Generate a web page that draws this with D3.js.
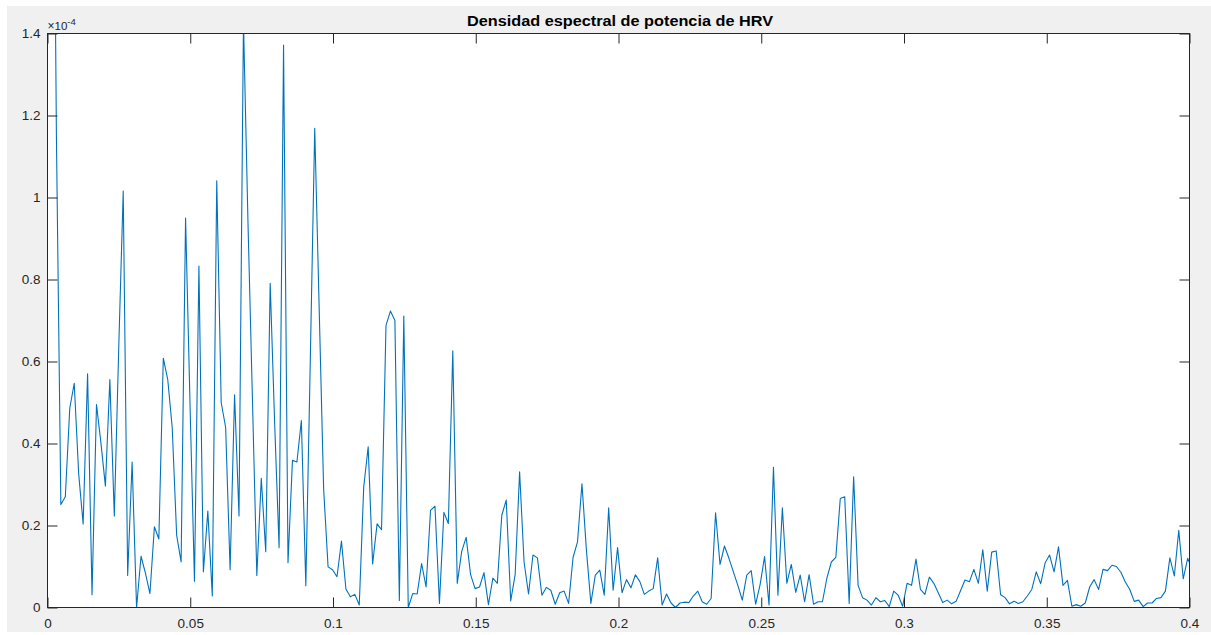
<!DOCTYPE html>
<html><head><meta charset="utf-8">
<script src="https://cdn.jsdelivr.net/npm/d3@7"></script>
<style>
body{margin:0;background:#fff}
svg{display:block}
text{font-family:"Liberation Sans",Arial,Helvetica,sans-serif}
</style>
</head><body><svg id="c" width="1211" height="635"></svg>
<script>
const chartTitle = "Densidad espectral de potencia de HRV";
const exponentBase = "10";
const exponentPower = "-4";
const freqStep = 0.00156; // Hz between PSD bins
// PSD values, in units of 1e-4
const psd = [
 4.0, 2.5, 1.15, 0.251, 0.270, 0.486, 0.547, 0.326, 0.204, 0.570,
 0.031, 0.495, 0.401, 0.296, 0.556, 0.223, 0.636, 1.016, 0.078, 0.355,
 0.0, 0.125, 0.083, 0.034, 0.197, 0.167, 0.608, 0.556, 0.439, 0.176,
 0.111, 0.950, 0.495, 0.064, 0.833, 0.087, 0.235, 0.028, 1.041, 0.500,
 0.439, 0.092, 0.519, 0.223, 1.43, 0.945, 0.514, 0.078, 0.315, 0.136,
 0.791, 0.45, 0.146, 1.372, 0.109, 0.359, 0.355, 0.456, 0.053, 0.60,
 1.169, 0.729, 0.289, 0.099, 0.092, 0.075, 0.162, 0.045, 0.026, 0.032,
 0.006, 0.294, 0.392, 0.106, 0.204, 0.190, 0.688, 0.723, 0.700, 0.017,
 0.711, 0.0, 0.034, 0.033, 0.107, 0.05, 0.237, 0.247, 0.010, 0.232,
 0.205, 0.626, 0.059, 0.137, 0.171, 0.080, 0.046, 0.050, 0.085, 0.007,
 0.072, 0.059, 0.225, 0.262, 0.016, 0.080, 0.331, 0.111, 0.033, 0.128,
 0.121, 0.030, 0.049, 0.042, 0.008, 0.036, 0.040, 0.010, 0.122, 0.160,
 0.302, 0.14, 0.010, 0.079, 0.091, 0.030, 0.243, 0.042, 0.146, 0.036,
 0.068, 0.048, 0.080, 0.063, 0.032, 0.040, 0.046, 0.121, 0.006, 0.033,
 0.011, 0.0, 0.011, 0.013, 0.012, 0.028, 0.040, 0.014, 0.008, 0.022,
 0.231, 0.105, 0.150, 0.120, 0.087, 0.054, 0.018, 0.079, 0.090, 0.008,
 0.056, 0.124, 0.006, 0.342, 0.030, 0.243, 0.059, 0.105, 0.037, 0.079,
 0.014, 0.080, 0.008, 0.014, 0.014, 0.072, 0.111, 0.122, 0.266, 0.270,
 0.010, 0.319, 0.054, 0.024, 0.018, 0.006, 0.024, 0.014, 0.017, 0.002,
 0.040, 0.030, 0.003, 0.059, 0.054, 0.118, 0.044, 0.032, 0.074, 0.059,
 0.036, 0.012, 0.018, 0.009, 0.015, 0.041, 0.067, 0.063, 0.093, 0.059,
 0.141, 0.040, 0.135, 0.138, 0.031, 0.024, 0.009, 0.015, 0.010, 0.014,
 0.028, 0.044, 0.087, 0.058, 0.109, 0.128, 0.087, 0.148, 0.054, 0.066,
 0.003, 0.007, 0.003, 0.011, 0.050, 0.068, 0.044, 0.093, 0.090, 0.103,
 0.100, 0.086, 0.062, 0.044, 0.015, 0.018, 0.002, 0.011, 0.011, 0.022,
 0.024, 0.040, 0.121, 0.077, 0.188, 0.070, 0.120, 0.094
];
const xTicks = [0, 0.05, 0.1, 0.15, 0.2, 0.25, 0.3, 0.35, 0.4];
const xTickLabels = ["0", "0.05", "0.1", "0.15", "0.2", "0.25", "0.3", "0.35", "0.4"];
const yTicks = [0, 0.2, 0.4, 0.6, 0.8, 1, 1.2, 1.4];
const yTickLabels = ["0", "0.2", "0.4", "0.6", "0.8", "1", "1.2", "1.4"];

const W = 1211, H = 635;
const m = {left: 47.5, right: 1189.5, top: 33.5, bottom: 607.5};
const svg = d3.select("#c");
const axisColor = "#262626";

svg.append("rect").attr("x", 7).attr("y", 6).attr("width", W - 7).attr("height", 626).attr("fill", "#f0f0f0");
svg.append("rect").attr("x", m.left).attr("y", m.top).attr("width", m.right - m.left).attr("height", m.bottom - m.top).attr("fill", "#fff");

const x = d3.scaleLinear().domain([0, 0.4]).range([m.left, m.right]);
const y = d3.scaleLinear().domain([0, 1.4]).range([m.bottom, m.top]);

svg.append("clipPath").attr("id", "clip").append("rect")
  .attr("x", m.left).attr("y", m.top).attr("width", m.right - m.left).attr("height", m.bottom - m.top);

const line = d3.line().x((d, i) => x(i * freqStep)).y(d => y(d));
svg.append("path").datum(psd).attr("clip-path", "url(#clip)")
  .attr("d", line).attr("fill", "none").attr("stroke", "#0072BD").attr("stroke-width", 1.1)
  .attr("stroke-linejoin", "round");

function styleAxis(g, showLabels) {
  g.select(".domain").remove();
  g.selectAll(".tick line").attr("stroke", axisColor);
  g.selectAll(".tick text").attr("fill", showLabels ? axisColor : "none")
    .attr("font-size", 13.5);
}

const xf = (d, i) => xTickLabels[i];
const yf = (d, i) => yTickLabels[i];

svg.append("g").attr("transform", `translate(0,${m.bottom})`)
  .call(d3.axisBottom(x).tickValues(xTicks).tickFormat(xf).tickSize(-10).tickPadding(11))
  .call(g => styleAxis(g, true));
svg.append("g").attr("transform", `translate(0,${m.top})`)
  .call(d3.axisTop(x).tickValues(xTicks).tickFormat("").tickSize(-10))
  .call(g => styleAxis(g, false));
svg.append("g").attr("transform", `translate(${m.left},0)`)
  .call(d3.axisLeft(y).tickValues(yTicks).tickFormat(yf).tickSize(-10).tickPadding(7))
  .call(g => styleAxis(g, true));
svg.append("g").attr("transform", `translate(${m.right},0)`)
  .call(d3.axisRight(y).tickValues(yTicks).tickFormat("").tickSize(-10))
  .call(g => styleAxis(g, false));

svg.append("rect").attr("x", m.left).attr("y", m.top).attr("width", m.right - m.left).attr("height", m.bottom - m.top)
  .attr("fill", "none").attr("stroke", axisColor).attr("stroke-width", 1);

// exponent label
const ex = svg.append("text").attr("x", m.left).attr("y", 29.5).attr("fill", axisColor).attr("font-size", 11.5);
ex.append("tspan").text("\u00d7").attr("font-size", 12);
ex.append("tspan").text(exponentBase);
ex.append("tspan").text(exponentPower).attr("font-size", 9.5).attr("dy", -4.5);

svg.append("text").attr("x", 620).attr("y", 25.5).attr("text-anchor", "middle")
  .attr("font-size", 14.5).attr("font-weight", "bold").attr("fill", "#000")
  .attr("textLength", 306).attr("lengthAdjust", "spacingAndGlyphs").text(chartTitle);
</script>
</body></html>
